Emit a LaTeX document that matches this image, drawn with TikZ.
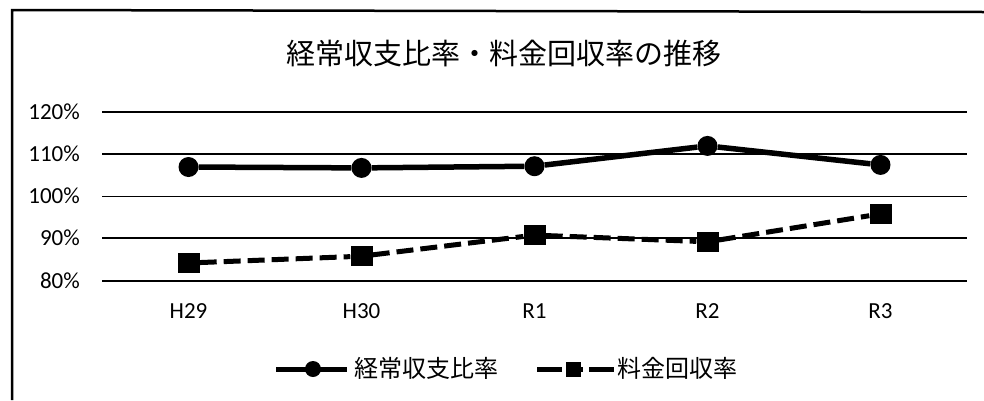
\documentclass[tikz,border=0pt]{standalone}
\usepackage{fontspec}
\setmainfont{Carlito}
\newfontfamily\jp{Noto Sans CJK JP}
\begin{document}
\begin{tikzpicture}[x=1pt,y=-1pt,
  gridline/.style={line width=1.8pt,black},
  serone/.style={line width=5.5pt,black,line join=round},
  sertwo/.style={line width=5pt,black,dash pattern=on 17pt off 7pt},
  dotmark/.style={circle,fill=black,inner sep=0pt,minimum size=20pt},
  sqmark/.style={rectangle,fill=black,inner sep=0pt,minimum width=22pt,minimum height=20pt},
  ylab/.style={anchor=base east,inner sep=0pt,font=\fontsize{23}{23}\selectfont},
  xlab/.style={anchor=base,inner sep=0pt,font=\fontsize{23}{23}\selectfont},
  legtext/.style={anchor=west,inner sep=0pt,font=\jp\fontsize{24}{24}\selectfont},
]
\useasboundingbox (0,0) rectangle (984,400);
% frame
\draw[line width=2.5pt] (12,400) -- (12,10) -- (984,12);
% title
\node[inner sep=0pt,font=\jp\fontsize{29}{29}\selectfont] (title) at (504,53) {経常収支比率・料金回収率の推移};
% grid
\foreach \yy/\lab in {111.7/120\%,153.6/110\%,196.4/100\%,238.2/90\%,280.7/80\%}{
  \draw[gridline] (102,\yy) -- (967,\yy);
  \node[ylab] at (80,\yy+7.5) {\lab};
}
% categories
\foreach \xx/\lab in {188.5/H29,361.5/H30,534.5/R1,707.5/R2,880.5/R3}{
  \node[xlab] at (\xx,318) {\lab};
}
% series 1
\node[dotmark] (a1) at (188.5,167.0) {};
\node[dotmark] (a2) at (361.5,167.9) {};
\node[dotmark] (a3) at (534.5,166.2) {};
\node[dotmark] (a4) at (707.5,145.9) {};
\node[dotmark] (a5) at (880.5,164.9) {};
\draw[serone] (a1) -- (a2) -- (a3) -- (a4) -- (a5);
% series 2
\node[sqmark] (b1) at (188.5,263.0) {};
\node[sqmark] (b2) at (361.5,256.2) {};
\node[sqmark] (b3) at (534.5,235.1) {};
\node[sqmark] (b4) at (707.5,241.8) {};
\node[sqmark] (b5) at (880.5,213.9) {};
\draw[sertwo] (b1) -- (b2);
\draw[sertwo] (b2) -- (b3);
\draw[sertwo] (b3) -- (b4);
\draw[sertwo] (b4) -- (b5);
% legend
\coordinate (l1s) at (276,369);
\coordinate (l1e) at (347,369);
\draw[serone,line width=5pt] (l1s) -- (l1e);
\node[dotmark,minimum size=16pt] (l1m) at (313,369) {};
\node[legtext] (l1t) at (354,368) {経常収支比率};
\coordinate (l2s) at (537,369);
\coordinate (l2e) at (614,369);
\draw[line width=5pt,black,dash pattern=on 25pt off 7pt on 14pt off 6pt on 30pt off 0pt] (l2s) -- (l2e);
\node[sqmark,minimum width=15pt,minimum height=15pt] (l2m) at (573,369) {};
\node[legtext] (l2t) at (617,368) {料金回収率};
\end{tikzpicture}
\end{document}
